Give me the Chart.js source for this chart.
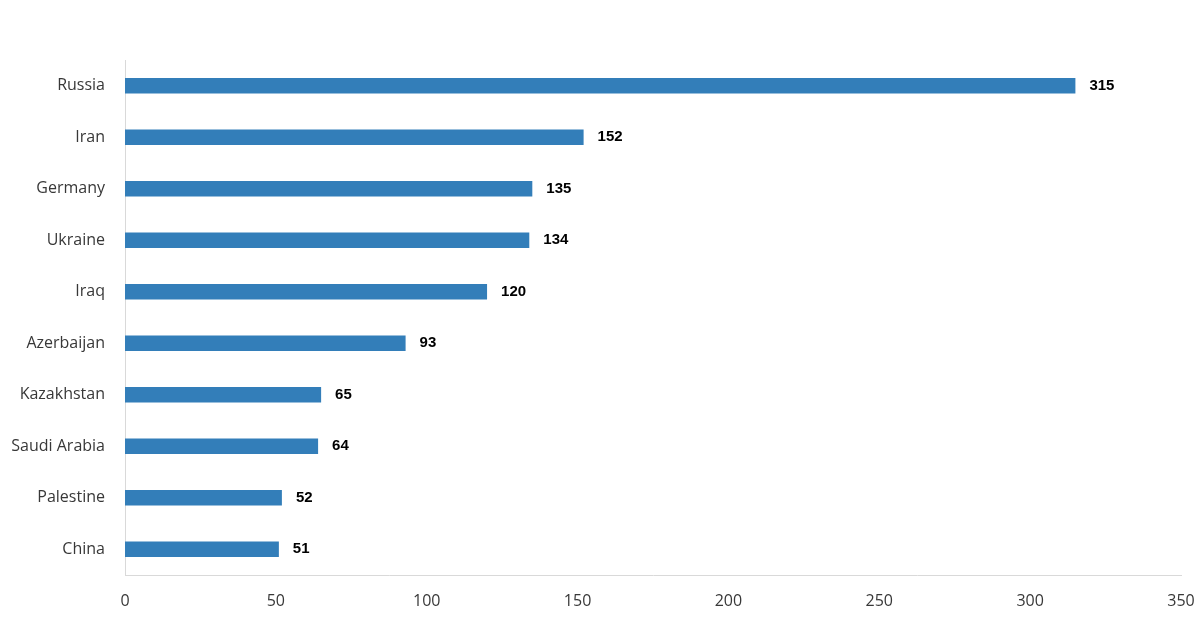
<!DOCTYPE html>
<html lang="en">
<head>
  <meta charset="UTF-8">
  <title>Countries</title>
  <script src="https://cdn.jsdelivr.net/npm/chart.js"></script>
  <style>
    html, body { margin: 0; padding: 0; background: #fff; }
    #wrap { width: 1200px; height: 617px; position: relative; }
  </style>
</head>
<body>
  <div id="wrap"><canvas id="chart"></canvas></div>
  <script>
    const countries = ['Russia', 'Iran', 'Germany', 'Ukraine', 'Iraq', 'Azerbaijan', 'Kazakhstan', 'Saudi Arabia', 'Palestine', 'China'];
    const counts = [315, 152, 135, 134, 120, 93, 65, 64, 52, 51];
    const xTicks = [0, 50, 100, 150, 200, 250, 300, 350];

    // draws the value right of each bar
    const valueLabels = {
      id: 'valueLabels',
      afterDatasetsDraw(chart) {
        const ctx = chart.ctx;
        const meta = chart.getDatasetMeta(0);
        ctx.save();
        ctx.font = 'bold 15px "Liberation Sans", Arial, sans-serif';
        ctx.fillStyle = '#000';
        ctx.textAlign = 'left';
        ctx.textBaseline = 'middle';
        meta.data.forEach((bar, i) => {
          ctx.fillText(String(counts[i]), bar.x + 14, bar.y);
        });
        ctx.restore();
      }
    };

    new Chart(document.getElementById('chart'), {
      type: 'bar',
      data: {
        labels: countries,
        datasets: [{
          data: counts,
          backgroundColor: '#337EB9',
          borderWidth: 0,
          barPercentage: 0.3,
          categoryPercentage: 1.0
        }]
      },
      options: {
        indexAxis: 'y',
        responsive: true,
        maintainAspectRatio: false,
        animation: false,
        layout: { padding: { top: 60, right: 0, left: 0, bottom: 0 } },
        plugins: { legend: { display: false }, tooltip: { enabled: false } },
        scales: {
          x: {
            min: 0,
            max: 350,
            afterBuildTicks: axis => { axis.ticks = xTicks.map(v => ({ value: v })); },
            grid: { display: false, drawTicks: false },
            border: { color: '#d9d9d9', width: 1 },
            ticks: {
              padding: 17,
              color: '#383838',
              font: { family: '"Open Sans", "Noto Sans", sans-serif', size: 16 }
            },
            afterFit: axis => {
              axis.height = 42;
              axis.paddingRight = 19;
              axis.paddingLeft = 0;
            }
          },
          y: {
            grid: { display: false, drawTicks: false },
            border: { color: '#d9d9d9', width: 1 },
            ticks: {
              padding: 20,
              color: '#383838',
              font: { family: '"Open Sans", "Noto Sans", sans-serif', size: 16 }
            },
            afterFit: axis => { axis.width = 125; }
          }
        }
      },
      plugins: [valueLabels]
    });
  </script>
</body>
</html>
